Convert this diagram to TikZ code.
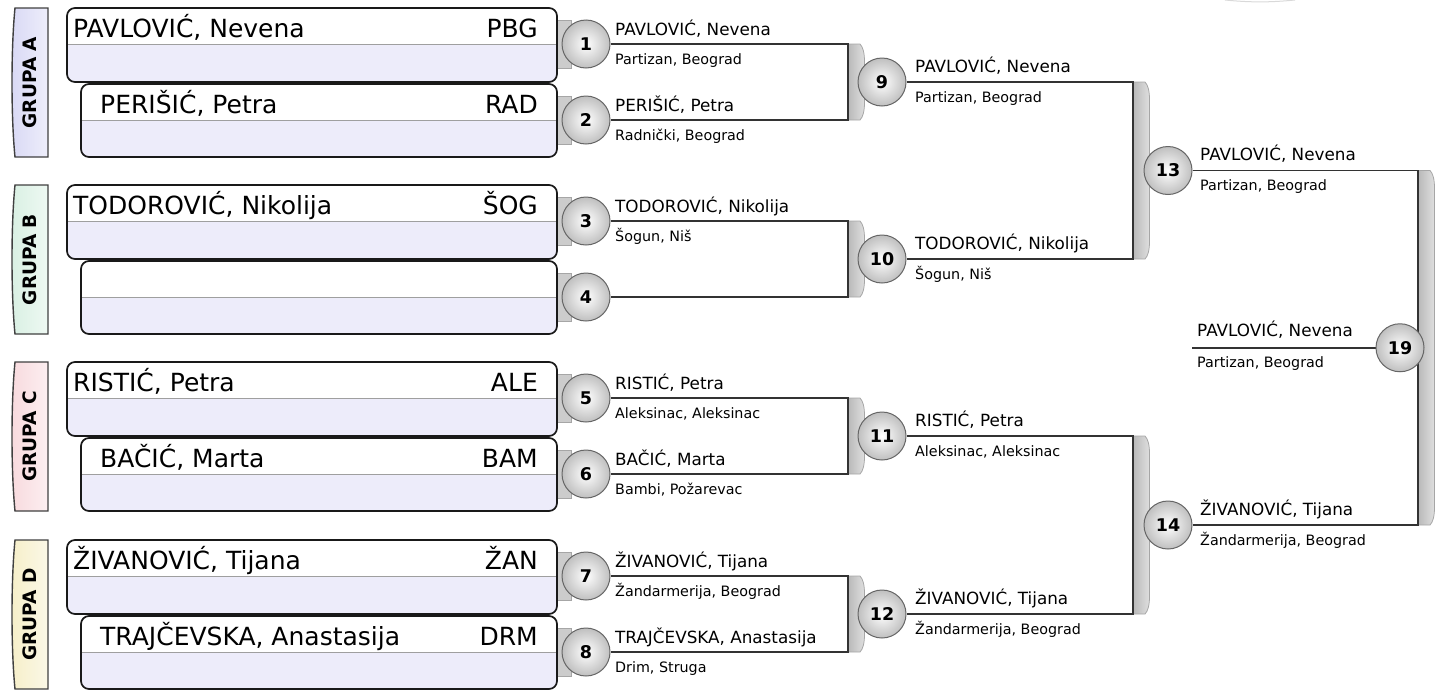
\documentclass[tikz,border=0pt]{standalone}
\usepackage{fontspec}
\setmainfont{DejaVu Sans}
\usetikzlibrary{backgrounds}
\definecolor{boxlow}{HTML}{EDECFA}
\definecolor{tabA}{HTML}{D9D9F5}
\definecolor{tabB}{HTML}{D9F0E3}
\definecolor{tabC}{HTML}{F8DADE}
\definecolor{tabD}{HTML}{F6EFC9}
\newcommand{\playerbox}[4]{%
  \begin{scope}
    \clip[rounded corners=8pt] (#1,#2) rectangle (557,#3);
    \fill[white] (#1,#2) rectangle (557,#4);
    \fill[boxlow] (#1,#4) rectangle (557,#3);
    \draw[gray!75, line width=0.8pt] (#1,#4) -- (557,#4);
  \end{scope}
  \draw[black!90, line width=1.7pt, rounded corners=8pt] (#1,#2) rectangle (557,#3);}
\newcommand{\grouptab}[3]{%
  \shade[left color=#3, right color=#3!45!white, draw=black!75, line width=1.4pt]
    (48,#1) -- (15,#1) .. controls (11,{#1+40}) and (11,{#2-40}) .. (15,#2) -- (48,#2) -- cycle;}
\newcommand{\stubrect}[1]{%
  \filldraw[fill=gray!40, draw=gray!70, line width=0.8pt] (556,{#1-24}) rectangle (571,{#1+24});}
\newcommand{\brk}[3]{%
  \shade[left color=gray!55, right color=gray!25, draw=gray!70, line width=0.8pt]
    (#1,#2) -- ({#1+12},#2) .. controls ({#1+15},{#2+3}) and ({#1+16.5},{#2+9}) .. ({#1+16.5},{#2+18})
    -- ({#1+16.5},{#3-18}) .. controls ({#1+16.5},{#3-9}) and ({#1+15},{#3-3}) .. ({#1+12},#3) -- (#1,#3) -- cycle;}
\begin{document}
\begin{tikzpicture}[x=1pt,y=-1pt,
  conn/.style={line width=1.8pt, draw=black!80},
  matchc/.style={circle, minimum size=48pt, inner sep=0pt, draw=black!60, line width=1pt,
    inner color=white, outer color=gray!50, font=\bfseries\fontsize{17.5}{17.5}\selectfont},
  nm/.style={anchor=base west, inner sep=0pt, font=\fontsize{16.8}{18}\selectfont},
  cl/.style={anchor=base west, inner sep=0pt, font=\fontsize{14.3}{16}\selectfont},
  bn/.style={anchor=base west, inner sep=0pt, font=\fontsize{25}{28}\selectfont},
  bc/.style={anchor=base east, inner sep=0pt, font=\fontsize{25}{28}\selectfont},
  tabtxt/.style={rotate=90, inner sep=0pt, font=\bfseries\fontsize{18.5}{20}\selectfont}]
\useasboundingbox (0,0) rectangle (1446,691);
\draw[gray!30, line width=1pt] (1225,0) .. controls (1250,2.5) and (1270,2.5) .. (1295,0);

% group tabs
\grouptab{8}{157}{tabA}
\grouptab{185}{334}{tabB}
\grouptab{362}{511}{tabC}
\grouptab{540}{689}{tabD}
\node[tabtxt] (ga) at (30,82.5) {GRUPA A};
\node[tabtxt] (gb) at (30,259.5) {GRUPA B};
\node[tabtxt] (gc) at (30,436.5) {GRUPA C};
\node[tabtxt] (gd) at (30,614.5) {GRUPA D};

% player boxes
\playerbox{67}{8}{82}{44}
\playerbox{81}{84}{157}{120}
\playerbox{67}{185}{259}{221}
\playerbox{81}{261}{334}{297}
\playerbox{67}{362}{436}{398}
\playerbox{81}{438}{511}{474}
\playerbox{67}{540}{614}{576}
\playerbox{81}{616}{689}{652}

\node[bn] (p1) at (73,37) {PAVLOVIĆ, Nevena};   \node[bc] (k1) at (538,37) {PBG};
\node[bn] (p2) at (100,113) {PERIŠIĆ, Petra};   \node[bc] (k2) at (538,113) {RAD};
\node[bn] (p3) at (73,214) {TODOROVIĆ, Nikolija}; \node[bc] (k3) at (538,214) {ŠOG};
\node[bn] (p5) at (73,391) {RISTIĆ, Petra};     \node[bc] (k5) at (538,391) {ALE};
\node[bn] (p6) at (100,467) {BAČIĆ, Marta};     \node[bc] (k6) at (538,467) {BAM};
\node[bn] (p7) at (73,569) {ŽIVANOVIĆ, Tijana}; \node[bc] (k7) at (538,569) {ŽAN};
\node[bn] (p8) at (100,645) {TRAJČEVSKA, Anastasija}; \node[bc] (k8) at (538,645) {DRM};

% match circles
\node[matchc] (m1) at (586,44) {1};
\node[matchc] (m2) at (586,120) {2};
\node[matchc] (m3) at (586,221) {3};
\node[matchc] (m4) at (586,297) {4};
\node[matchc] (m5) at (586,398) {5};
\node[matchc] (m6) at (586,474) {6};
\node[matchc] (m7) at (586,576) {7};
\node[matchc] (m8) at (586,652) {8};
\node[matchc] (m9) at (882,82) {9};
\node[matchc] (m10) at (882,259) {10};
\node[matchc] (m11) at (882,436) {11};
\node[matchc] (m12) at (882,614) {12};
\node[matchc] (m13) at (1168,170.5) {13};
\node[matchc] (m14) at (1168,525) {14};
\node[matchc] (m19) at (1400,347.75) {19};

\coordinate (b9) at (848,82);
\coordinate (b10) at (848,259);
\coordinate (b11) at (848,436);
\coordinate (b12) at (848,614);
\coordinate (b13) at (1133,170.5);
\coordinate (b14) at (1133,525);
\coordinate (b19) at (1418,347.75);
\coordinate (f19) at (1192,347.75);

\begin{pgfonlayer}{background}
  \stubrect{44}\stubrect{120}\stubrect{221}\stubrect{297}
  \stubrect{398}\stubrect{474}\stubrect{576}\stubrect{652}
  \brk{848}{44}{120}
  \brk{848}{221}{297}
  \brk{848}{398}{474}
  \brk{848}{576}{652}
  \brk{1133}{82}{259}
  \brk{1133}{436}{614}
  \brk{1418}{170.5}{525}
  \draw[conn] (m1.east) -| (b9) |- (m2.east);
  \draw[conn] (m3.east) -| (b10) |- (m4.east);
  \draw[conn] (m5.east) -| (b11) |- (m6.east);
  \draw[conn] (m7.east) -| (b12) |- (m8.east);
  \draw[conn] (m9.east) -| (b13) |- (m10.east);
  \draw[conn] (m11.east) -| (b14) |- (m12.east);
  \draw[conn] (m13.east) -| (b19) |- (m14.east);
  \draw[conn] (f19) -- (m19.west);
\end{pgfonlayer}

% round 1 labels
\node[nm] (l1a) at (615,35) {PAVLOVIĆ, Nevena};   \node[cl] (l1b) at (615,64) {Partizan, Beograd};
\node[nm] (l2a) at (615,111) {PERIŠIĆ, Petra};    \node[cl] (l2b) at (615,140) {Radnički, Beograd};
\node[nm] (l3a) at (615,212) {TODOROVIĆ, Nikolija}; \node[cl] (l3b) at (615,241) {Šogun, Niš};
\node[nm] (l5a) at (615,389) {RISTIĆ, Petra};     \node[cl] (l5b) at (615,418) {Aleksinac, Aleksinac};
\node[nm] (l6a) at (615,465) {BAČIĆ, Marta};      \node[cl] (l6b) at (615,494) {Bambi, Požarevac};
\node[nm] (l7a) at (615,567) {ŽIVANOVIĆ, Tijana}; \node[cl] (l7b) at (615,596) {Žandarmerija, Beograd};
\node[nm] (l8a) at (615,643) {TRAJČEVSKA, Anastasija}; \node[cl] (l8b) at (615,672) {Drim, Struga};
% round 2 labels
\node[nm] (l9a) at (915,72) {PAVLOVIĆ, Nevena};   \node[cl] (l9b) at (915,102) {Partizan, Beograd};
\node[nm] (l10a) at (915,249) {TODOROVIĆ, Nikolija}; \node[cl] (l10b) at (915,279) {Šogun, Niš};
\node[nm] (l11a) at (915,426) {RISTIĆ, Petra};    \node[cl] (l11b) at (915,456) {Aleksinac, Aleksinac};
\node[nm] (l12a) at (915,604) {ŽIVANOVIĆ, Tijana}; \node[cl] (l12b) at (915,634) {Žandarmerija, Beograd};
% round 3 labels
\node[nm] (l13a) at (1200,160.5) {PAVLOVIĆ, Nevena}; \node[cl] (l13b) at (1200,190.5) {Partizan, Beograd};
\node[nm] (l14a) at (1200,515) {ŽIVANOVIĆ, Tijana}; \node[cl] (l14b) at (1200,545) {Žandarmerija, Beograd};
% final
\node[nm] (l19a) at (1197,336) {PAVLOVIĆ, Nevena}; \node[cl] (l19b) at (1197,367) {Partizan, Beograd};
\end{tikzpicture}
\end{document}
